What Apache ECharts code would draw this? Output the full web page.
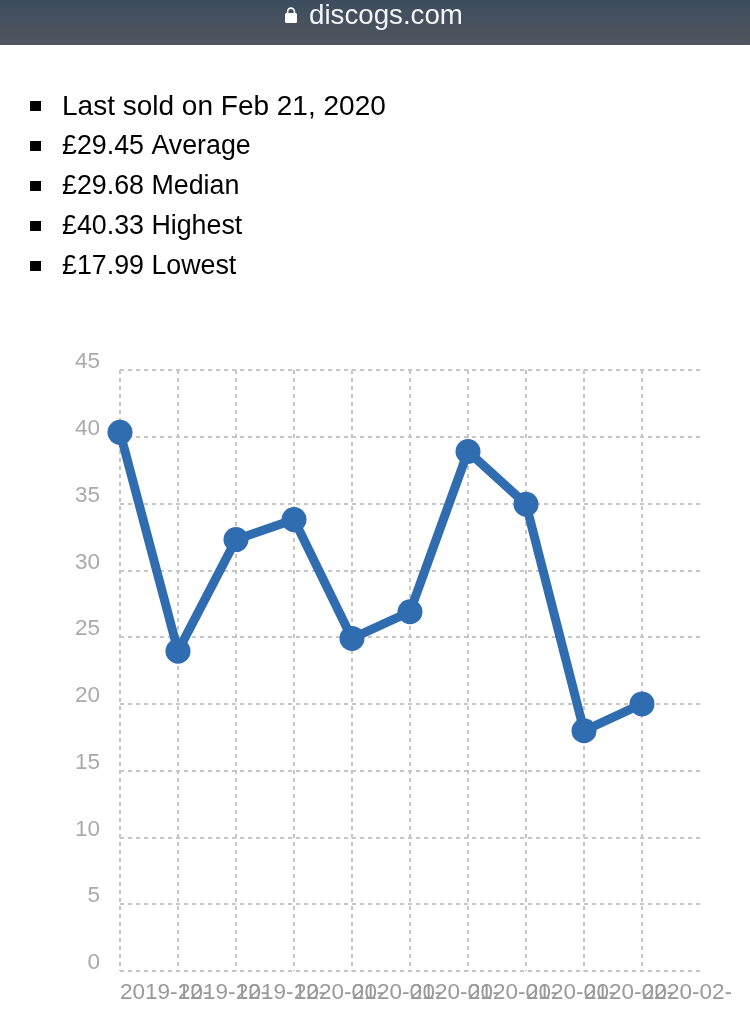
<!DOCTYPE html>
<html><head><meta charset="utf-8">
<style>html,body{margin:0;padding:0;background:#fff}#c{width:750px;height:1021px}</style>
<script src="https://cdn.jsdelivr.net/npm/echarts@6/dist/echarts.min.js"></script>
</head><body><div id="c"></div>
<script>
const categories = ["2019-12-","2019-12-","2019-12-","2020-01-","2020-01-","2020-01-","2020-01-","2020-01-","2020-02-","2020-02-",""];
const prices = [40.33,23.95,32.3,33.8,24.9,26.9,38.9,34.95,17.99,20];
const summary = ["Last sold on Feb 21, 2020","£29.45 Average","£29.68 Median","£40.33 Highest","£17.99 Lowest"];
const siteName = "discogs.com";
const F = '"Liberation Sans", Arial, sans-serif';
const gfx = [
  {type:'rect',shape:{x:0,y:0,width:750,height:45},style:{fill:new echarts.graphic.LinearGradient(0,0,0,1,[{offset:0,color:'#3d4d5e'},{offset:1,color:'#50565e'}])}},
  {type:'rect',shape:{x:285,y:13,width:12,height:10,r:1.5},style:{fill:'#fff'}},
  {type:'arc',shape:{cx:291,cy:11.5,r:3.4,startAngle:Math.PI,endAngle:0},style:{fill:'none',stroke:'#fff',lineWidth:1.7}},
  {type:'line',shape:{x1:287.6,y1:11.5,x2:287.6,y2:14},style:{stroke:'#fff',lineWidth:1.7}},
  {type:'line',shape:{x1:294.4,y1:11.5,x2:294.4,y2:14},style:{stroke:'#fff',lineWidth:1.7}},
  {type:'text',x:309,y:16,style:{text:siteName,font:'27.7px '+F,fill:'#f2f4f6',verticalAlign:'middle'}}
];
summary.forEach((t,i)=>{
  const y = 106+i*40;
  gfx.push({type:'rect',shape:{x:30,y:y-5,width:11,height:10},style:{fill:'#000'}});
  gfx.push({type:'text',x:62,y:y+1,style:{text:t,font:(i===0?'28px ':'26.8px ')+F,fill:'#000',verticalAlign:'middle'}});
});
const grid = {color:'#c6c6c6',width:2,type:[4,4]};
const chart = echarts.init(document.getElementById('c'),null,{renderer:'canvas'});
chart.setOption({
  animation:false,
  backgroundColor:'#fff',
  graphic:gfx,
  grid:{left:120,right:50,top:370,bottom:50},
  xAxis:{type:'category',boundaryGap:false,data:categories,
    axisLine:{show:false},axisTick:{show:false},
    axisLabel:{interval:0,align:'left',color:'#999',fontFamily:F,fontSize:22.5,margin:10,hideOverlap:false},
    splitLine:{show:true,showMaxLine:false,interval:0,lineStyle:grid}},
  yAxis:{type:'value',min:0,max:45,interval:5,
    axisLine:{show:false},axisTick:{show:false},
    axisLabel:{color:'#aaa',fontFamily:F,fontSize:22.5,margin:20,align:'right',verticalAlign:'bottom',lineHeight:16},
    splitLine:{show:true,lineStyle:grid}},
  series:[{type:'line',data:prices,symbol:'circle',symbolSize:25,showSymbol:true,
    lineStyle:{color:'#2f6cb0',width:9,join:'miter'},itemStyle:{color:'#2f6cb0'}}]
});
</script></body></html>
